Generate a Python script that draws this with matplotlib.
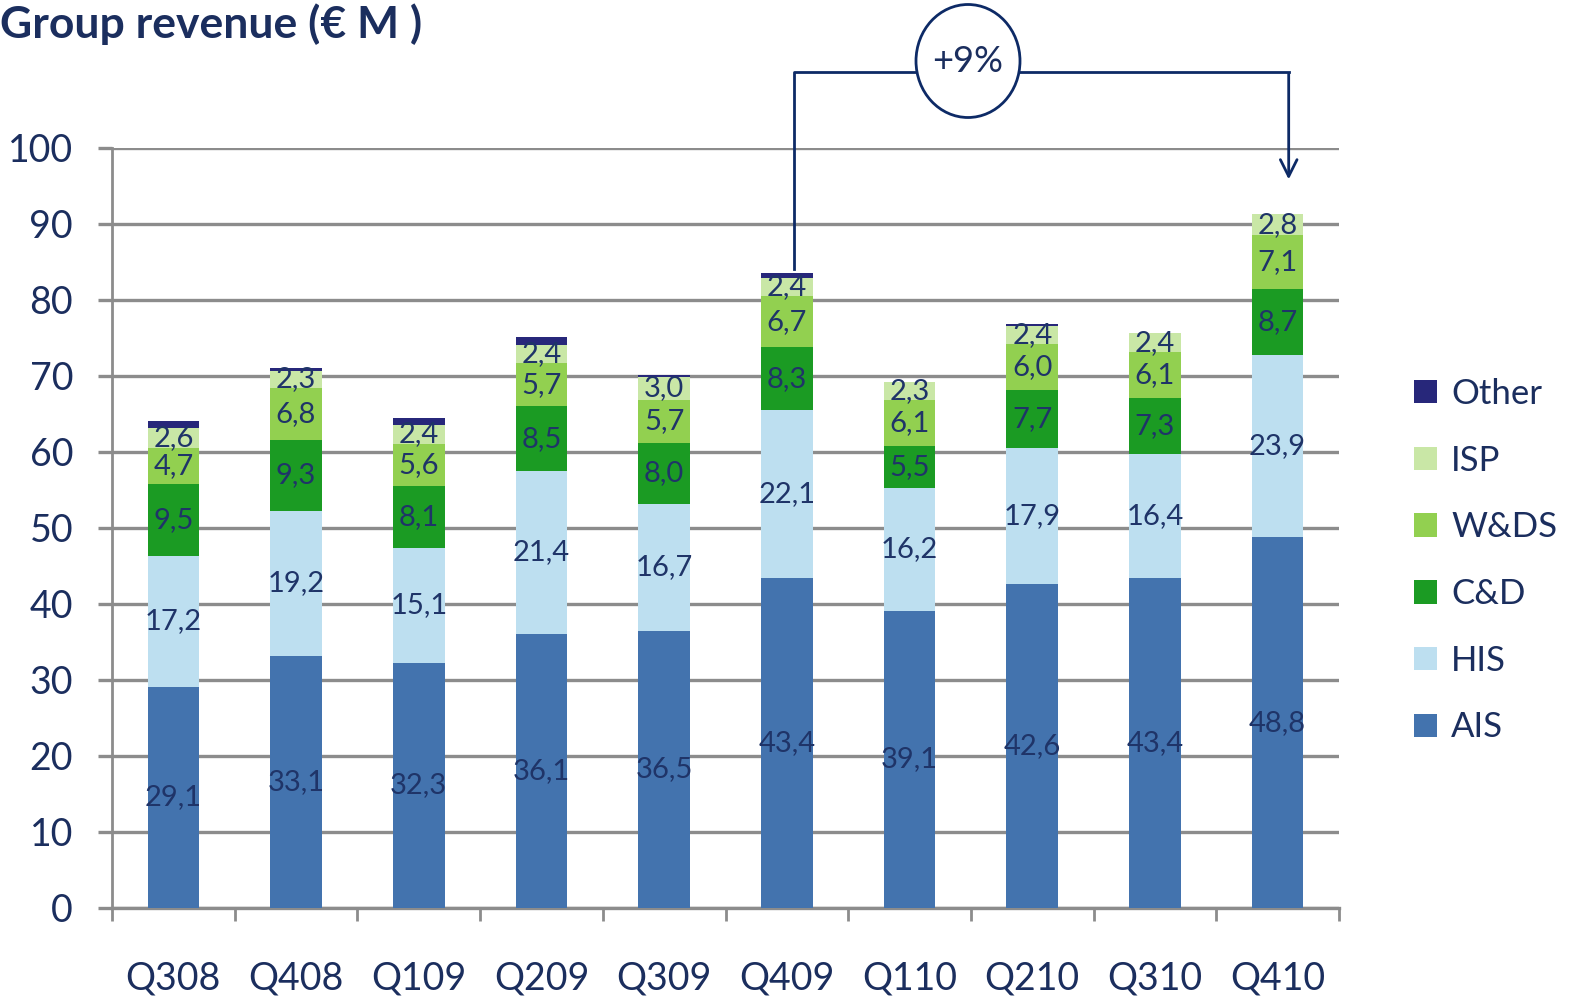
import matplotlib
matplotlib.use("Agg")
import matplotlib.pyplot as plt
from matplotlib.patches import Ellipse
import numpy as np

quarters = ["Q308", "Q408", "Q109", "Q209", "Q309", "Q409", "Q110", "Q210", "Q310", "Q410"]
ais = [29.1, 33.1, 32.3, 36.1, 36.5, 43.4, 39.1, 42.6, 43.4, 48.8]
his = [17.2, 19.2, 15.1, 21.4, 16.7, 22.1, 16.2, 17.9, 16.4, 23.9]
cd = [9.5, 9.3, 8.1, 8.5, 8.0, 8.3, 5.5, 7.7, 7.3, 8.7]
wds = [4.7, 6.8, 5.6, 5.7, 5.7, 6.7, 6.1, 6.0, 6.1, 7.1]
isp = [2.6, 2.3, 2.4, 2.4, 3.0, 2.4, 2.3, 2.4, 2.4, 2.8]
other = [1.0, 0.4, 1.0, 1.0, 0.2, 0.7, 0.0, 0.2, 0.0, 0.0]
series_names = ["AIS", "HIS", "C&D", "W&DS", "ISP", "Other"]
growth_label = "+9%"
yticks = [0, 10, 20, 30, 40, 50, 60, 70, 80, 90, 100]

colors = ["#4373AE", "#BDDFF0", "#1B9B23", "#92D050", "#C9E7A6", "#27277A"]
navy = "#1B2E5E"
font = "Lato"

fig = plt.figure(figsize=(15.8, 10.02), dpi=100)
ax = fig.add_axes([112/1580, 1-908/1002, (1339-112)/1580, (908-148)/1002])

x = np.arange(len(quarters))
data = [ais, his, cd, wds, isp, other]
bottom = np.zeros(len(quarters))
handles = []
for i, (vals, name, col) in enumerate(zip(data, series_names, colors)):
    v = np.array(vals)
    b = ax.bar(x, v, 0.42, bottom=bottom, color=col, label=name, zorder=3)
    handles.append(b)
    if name != "Other":
        for xi, vi, bi in zip(x, v, bottom):
            ax.text(xi, bi + vi/2, f"{vi:.1f}".replace(".", ","), ha="center", va="center",
                    fontsize=21, color="#1F3468", family=font, zorder=4)
    bottom = bottom + v

ax.set_xlim(-0.5, len(quarters) - 0.5)
ax.set_ylim(0, 100)
ax.set_yticks(yticks)
ax.yaxis.grid(True, color="#8C8C8C", linewidth=2.4, zorder=0)
ax.set_axisbelow(True)
for s in ["top", "right"]:
    ax.spines[s].set_visible(False)
ax.spines["left"].set_color("#8C8C8C")
ax.spines["left"].set_linewidth(2)
ax.spines["bottom"].set_color("#8C8C8C")
ax.spines["bottom"].set_linewidth(2.4)
ax.tick_params(axis="y", length=10, width=2.4, color="#8C8C8C", pad=18,
               labelsize=27, labelcolor=navy)
ax.set_xticks(x)
ax.set_xticklabels(quarters)
ax.set_xticks(np.arange(-0.5, len(quarters), 1.0), minor=True)
ax.tick_params(axis="x", which="major", length=0, pad=38, labelsize=27, labelcolor=navy)
ax.tick_params(axis="x", which="minor", length=9, width=2, color="#8C8C8C")
for lab in ax.get_xticklabels() + ax.get_yticklabels():
    lab.set_family(font)

# legend
leg = ax.legend(handles[::-1], series_names[::-1], loc="center left",
                bbox_to_anchor=(1.036, 0.457), frameon=False,
                handlelength=0.66, handleheight=0.66, handletextpad=0.4,
                labelspacing=1.0, prop={"family": font, "size": 25})
for t in leg.get_texts():
    t.set_color(navy)

fig.text(0.0, 1-24/1002, "Group revenue (€ M )", fontsize=32, fontweight="bold",
         color=navy, family=font, ha="left", va="center")

# growth annotation
top5 = bottom[5]
ax.plot([5.06, 5.06, 9.09], [top5 + 0.5, 110, 110], color="#0D2A66", lw=2, clip_on=False, zorder=5)
ax.annotate("", xy=(9.09, 95.5), xytext=(9.09, 110.1),
            arrowprops=dict(arrowstyle="->", color="#0D2A66", lw=2, mutation_scale=30),
            annotation_clip=False)
ell = Ellipse((968/1580, 1-61/1002), 104/1580, 113/1002, transform=fig.transFigure,
              facecolor="white", edgecolor="#0D2A66", lw=2, zorder=6)
fig.add_artist(ell)
fig.text(968/1580, 1-62/1002, growth_label, fontsize=26, color=navy, family=font,
         ha="center", va="center", zorder=7)

fig.savefig("out.png", dpi=100)
